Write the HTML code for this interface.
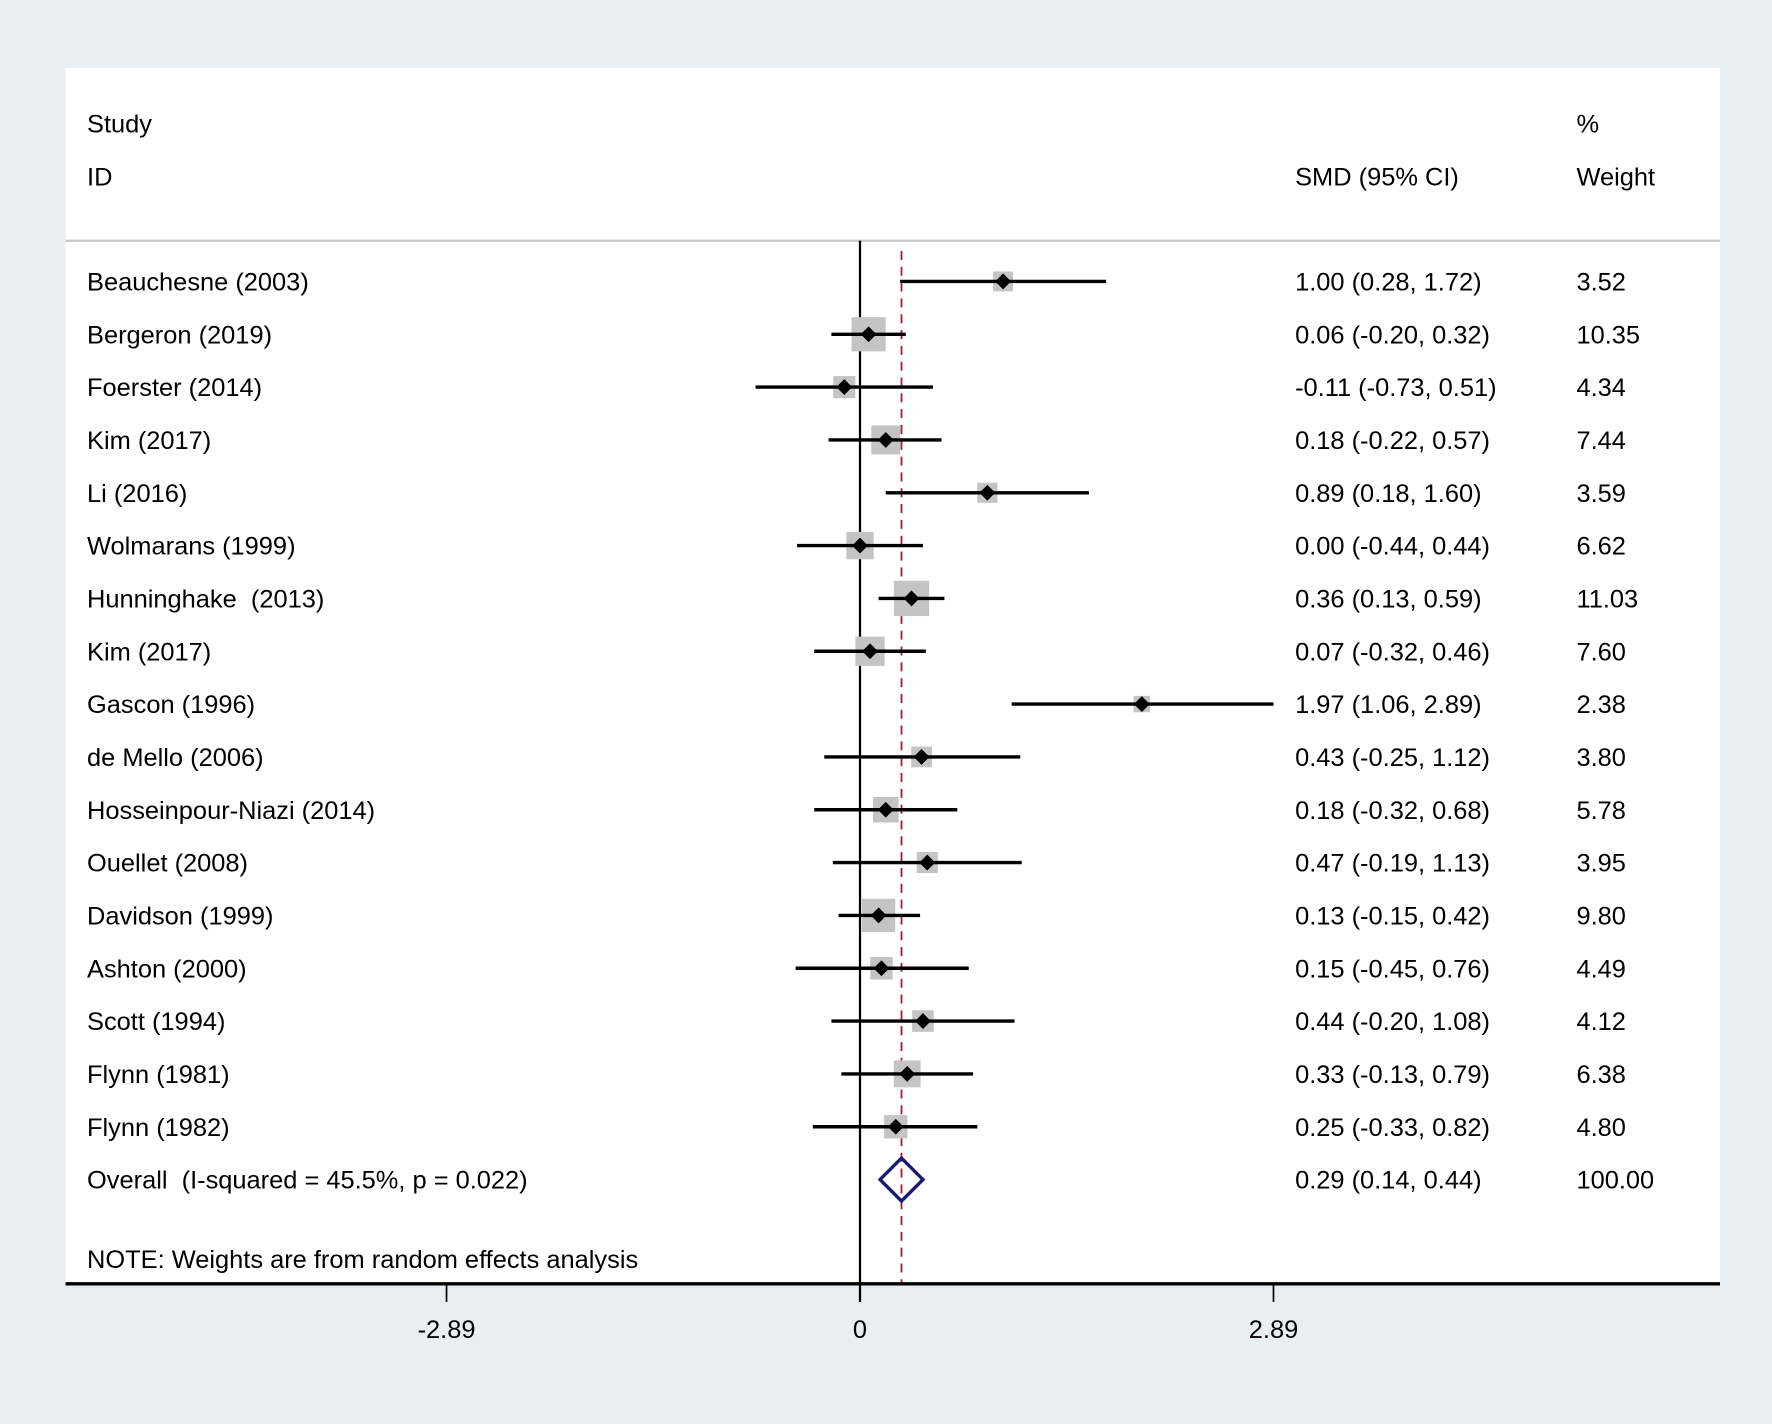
<!DOCTYPE html>
<html><head><meta charset="utf-8"><style>
html,body{margin:0;padding:0;background:#e8eff2;}
svg{display:block;font-family:"Liberation Sans",Arial,sans-serif;}
text{white-space:pre;}
</style></head><body>
<svg id="chart" width="1772" height="1424" viewBox="0 0 1568 1260" xmlns="http://www.w3.org/2000/svg" xml:space="preserve">
<rect x="0" y="0" width="1568" height="1260" fill="#e8eff2"/>
<rect x="58" y="60" width="1464" height="1076" fill="#ffffff"/>
<line x1="58" y1="213" x2="1522" y2="213" stroke="#c8c8c8" stroke-width="2"/>
<g font-size="22.5" fill="#000">
<text x="77" y="117">Study</text>
<text x="77" y="164">ID</text>
<text x="1146" y="164">SMD (95% CI)</text>
<text x="1395" y="117">%</text>
<text x="1395" y="164">Weight</text>
<text x="77" y="1122">NOTE: Weights are from random effects analysis</text>
</g>
<g id="marks"></g>
</svg>
<script>
const studies = ["Beauchesne (2003)","Bergeron (2019)","Foerster (2014)","Kim (2017)","Li (2016)","Wolmarans (1999)","Hunninghake  (2013)","Kim (2017)","Gascon (1996)","de Mello (2006)","Hosseinpour-Niazi (2014)","Ouellet (2008)","Davidson (1999)","Ashton (2000)","Scott (1994)","Flynn (1981)","Flynn (1982)"];
const smd = [1.00,0.06,-0.11,0.18,0.89,0.00,0.36,0.07,1.97,0.43,0.18,0.47,0.13,0.15,0.44,0.33,0.25];
const lower = [0.28,-0.20,-0.73,-0.22,0.18,-0.44,0.13,-0.32,1.06,-0.25,-0.32,-0.19,-0.15,-0.45,-0.20,-0.13,-0.33];
const upper = [1.72,0.32,0.51,0.57,1.60,0.44,0.59,0.46,2.89,1.12,0.68,1.13,0.42,0.76,1.08,0.79,0.82];
const weights = [3.52,10.35,4.34,7.44,3.59,6.62,11.03,7.60,2.38,3.80,5.78,3.95,9.80,4.49,4.12,6.38,4.80];
const overall = [0.29,0.14,0.44];
const overallLabel = "Overall  (I-squared = 45.5%, p = 0.022)";
const ticks = [-2.89,0,2.89];
const tickLabels = ["-2.89","0","2.89"];

const NS="http://www.w3.org/2000/svg";
const g=document.getElementById('marks');
const x=v=>761+v*126.6;
const y=i=>249+i*46.75;
const FS=22.5;
function el(t,a){const e=document.createElementNS(NS,t);for(const k in a)e.setAttribute(k,a[k]);g.appendChild(e);return e;}
const f=v=>v.toFixed(2);

let z=el('line',{x1:x(0),y1:213,x2:x(0),y2:1152,stroke:'#000','stroke-width':2});


let d=el('line',{x1:x(overall[0]),y1:222,x2:x(overall[0]),y2:1136,stroke:'#9b2335','stroke-width':1.6,'stroke-dasharray':'8,6'});



studies.forEach((s,i)=>{
  const yy=y(i);
  const side=9.4*Math.sqrt(weights[i]);
  let b=el('rect',{x:x(smd[i])-side/2,y:yy-side/2,width:side,height:side,fill:'#c4c4c4'});
  
  
  let l=el('line',{x1:x(lower[i]),y1:yy,x2:x(upper[i]),y2:yy,stroke:'#000','stroke-width':3});
  
  
  const px=x(smd[i]);
  let p=el('polygon',{points:`${px-7},${yy} ${px},${yy-7} ${px+7},${yy} ${px},${yy+7}`,fill:'#000'});
  
  
  let t=el('text',{x:77,y:yy+8,'font-size':FS});t.textContent=s;
  
  
  let c=el('text',{x:1146,y:yy+8,'font-size':FS});c.textContent=`${f(smd[i])} (${f(lower[i])}, ${f(upper[i])})`;
  
  
  let w=el('text',{x:1395,y:yy+8,'font-size':FS});w.textContent=f(weights[i]);
  
  
});
const oy=y(studies.length);
let dm=el('polygon',{points:`${x(overall[1])},${oy} ${x(overall[0])},${oy-19} ${x(overall[2])},${oy} ${x(overall[0])},${oy+19}`,fill:'none',stroke:'#1a1a6e','stroke-width':3});


let ot=el('text',{x:77,y:oy+8,'font-size':FS});ot.textContent=overallLabel;


let oc=el('text',{x:1146,y:oy+8,'font-size':FS});oc.textContent=`${f(overall[0])} (${f(overall[1])}, ${f(overall[2])})`;


let ow=el('text',{x:1395,y:oy+8,'font-size':FS});ow.textContent="100.00";



let ax=el('line',{x1:58,y1:1136,x2:1522,y2:1136,stroke:'#000','stroke-width':3});


ticks.forEach((v,i)=>{
  let tk=el('line',{x1:x(v),y1:1136,x2:x(v),y2:1152,stroke:'#000','stroke-width':1.5});
  
  
  let tl=el('text',{x:x(v),y:1184,'font-size':FS,'text-anchor':'middle'});tl.textContent=tickLabels[i];
  
  
});
</script>
</body></html>
